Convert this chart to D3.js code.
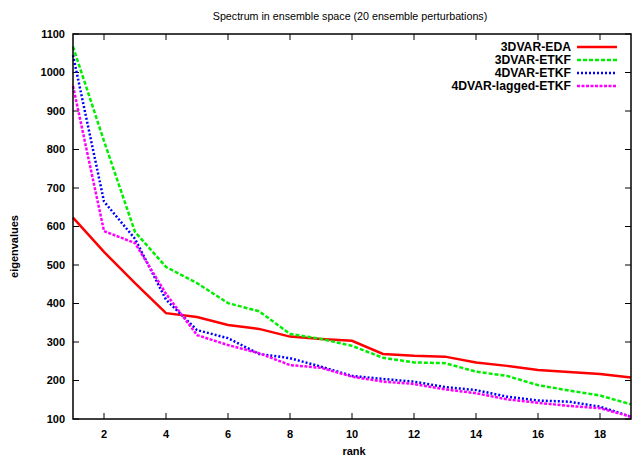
<!DOCTYPE html>
<html>
<head>
<meta charset="utf-8">
<script src="https://cdn.jsdelivr.net/npm/d3@7"></script>
<style>
  body { margin: 0; background: #fff; }
  svg { display: block; font-family: "Liberation Sans", Arial, sans-serif; }
</style>
</head>
<body>
<div id="chart"></div>
<script>
const ranks = d3.range(1, 20);
const seriesNames = ["3DVAR-EDA", "3DVAR-ETKF", "4DVAR-ETKF", "4DVAR-lagged-ETKF"];
const eda3dvar = [623, 534, 453, 375, 365, 344, 334, 314, 308, 303, 269, 264, 262, 247, 238, 227, 222, 217, 208];
const etkf3dvar = [1067, 822, 586, 495, 453, 401, 380, 321, 308, 290, 259, 247, 245, 223, 212, 188, 174, 161, 138];
const etkf4dvar = [1045, 665, 568, 410, 331, 310, 269, 258, 236, 212, 204, 197, 183, 175, 158, 148, 145, 132, 106];
const laggedEtkf4dvar = [965, 588, 557, 425, 318, 292, 271, 240, 233, 210, 197, 191, 177, 167, 151, 142, 134, 128, 106];
const xTicks = [2, 4, 6, 8, 10, 12, 14, 16, 18];
const yTicks = d3.range(100, 1101, 100);

const width = 633, height = 460;
const margin = { top: 34, right: 2, bottom: 41, left: 73 };
const innerWidth = width - margin.left - margin.right;
const innerHeight = height - margin.top - margin.bottom;

const series = [
  { name: seriesNames[0], values: eda3dvar, color: "#ff0000", dash: null },
  { name: seriesNames[1], values: etkf3dvar, color: "#00ee00", dash: "4,2" },
  { name: seriesNames[2], values: etkf4dvar, color: "#0000ff", dash: "2,2" },
  { name: seriesNames[3], values: laggedEtkf4dvar, color: "#ff00ff", dash: "3,1.5" },
];

const x = d3.scaleLinear().domain([1, 19]).range([0, innerWidth]);
const y = d3.scaleLinear().domain([100, 1100]).range([innerHeight, 0]);

const svg = d3.select("#chart").append("svg")
  .attr("width", width).attr("height", height);

svg.append("text")
  .attr("x", margin.left + innerWidth / 2 - 2).attr("y", 20)
  .attr("text-anchor", "middle").attr("font-size", 10.7)
  .text("Spectrum in ensemble space (20 ensemble perturbations)");

const root = svg.append("g").attr("transform", `translate(${margin.left},${margin.top})`);

const tickLen = 6;
// y ticks, left side and mirrored on the right
const yt = root.append("g");
yTicks.forEach((v) => {
  yt.append("line").attr("x1", 0).attr("x2", tickLen).attr("y1", y(v)).attr("y2", y(v))
    .attr("stroke", "#000").attr("stroke-width", 1);
  yt.append("line").attr("x1", innerWidth).attr("x2", innerWidth - tickLen).attr("y1", y(v)).attr("y2", y(v))
    .attr("stroke", "#000").attr("stroke-width", 1);
  yt.append("text").attr("x", -8).attr("y", y(v)).attr("dy", "0.35em")
    .attr("text-anchor", "end").attr("font-size", 11).attr("font-weight", "bold")
    .text(v);
});
// x ticks, bottom and mirrored on top
const xt = root.append("g");
xTicks.forEach((v) => {
  xt.append("line").attr("x1", x(v)).attr("x2", x(v)).attr("y1", innerHeight).attr("y2", innerHeight - tickLen)
    .attr("stroke", "#000").attr("stroke-width", 1);
  xt.append("line").attr("x1", x(v)).attr("x2", x(v)).attr("y1", 0).attr("y2", tickLen)
    .attr("stroke", "#000").attr("stroke-width", 1);
  xt.append("text").attr("x", x(v)).attr("y", innerHeight + 19)
    .attr("text-anchor", "middle").attr("font-size", 11).attr("font-weight", "bold")
    .text(v);
});

// series
const line = d3.line().x((d, i) => x(ranks[i])).y((d) => y(d));
root.append("g").selectAll("path").data(series).join("path")
  .attr("d", (s) => line(s.values))
  .attr("fill", "none")
  .attr("stroke", (s) => s.color)
  .attr("stroke-width", 2.5)
  .attr("stroke-dasharray", (s) => s.dash);

// frame
root.append("rect").attr("width", innerWidth).attr("height", innerHeight)
  .attr("fill", "none").attr("stroke", "#000").attr("stroke-width", 1.5);

// legend
const legend = svg.append("g");
series.forEach((s, i) => {
  const ly = 47 + i * 13;
  legend.append("text").attr("x", 571).attr("y", ly).attr("dy", "0.35em")
    .attr("text-anchor", "end").attr("font-size", 12.2).attr("font-weight", "bold")
    .text(s.name);
  legend.append("line").attr("x1", 577).attr("x2", 617).attr("y1", ly).attr("y2", ly)
    .attr("stroke", s.color).attr("stroke-width", 2.5).attr("stroke-dasharray", s.dash);
});

// axis labels
svg.append("text").attr("x", 354).attr("y", 455)
  .attr("text-anchor", "middle").attr("font-size", 11).attr("font-weight", "bold").text("rank");
svg.append("text").attr("transform", `translate(18,${margin.top + innerHeight / 2 + 20}) rotate(-90)`)
  .attr("text-anchor", "middle").attr("font-size", 11).attr("font-weight", "bold").text("eigenvalues");
</script>
</body>
</html>
